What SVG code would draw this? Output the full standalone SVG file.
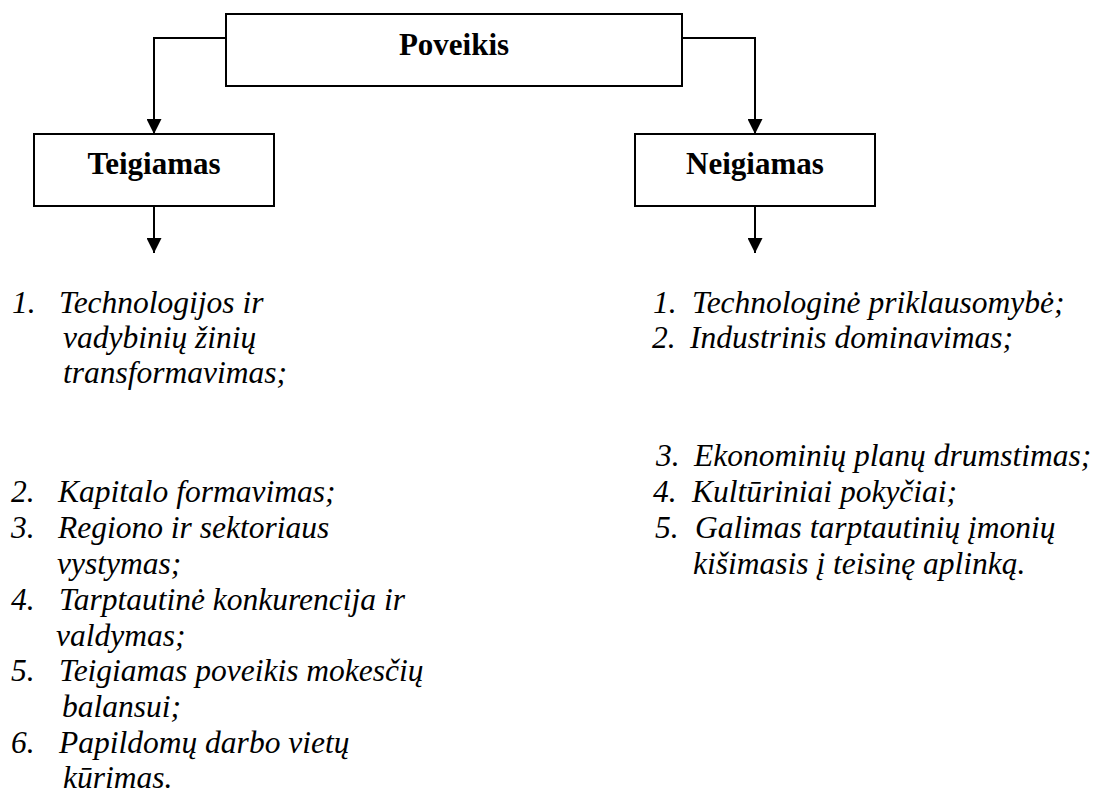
<svg xmlns="http://www.w3.org/2000/svg" width="1100" height="796" viewBox="0 0 1100 796">
<style>
.box{fill:#fff;stroke:#000;stroke-width:2}
.hdr{font-family:"Liberation Serif","Times New Roman",serif;font-weight:bold;font-size:31px;fill:#000;text-anchor:middle}
.li{font-family:"Liberation Serif","Times New Roman",serif;font-style:italic;font-size:31.5px;fill:#000}
.con{fill:none;stroke:#000;stroke-width:2}
</style>
<defs>
<marker id="arr" markerWidth="15" markerHeight="15" refX="15" refY="7.5" orient="auto" markerUnits="userSpaceOnUse">
<path d="M0,0 L15,7.5 L0,15 Z" fill="#000"/>
</marker>
</defs>
<rect width="1100" height="796" fill="#fff"/>
<g id="connectors">
<path class="con" d="M226,38 H154 V134" marker-end="url(#arr)"/>
<path class="con" d="M682,38 H755 V134" marker-end="url(#arr)"/>
<path class="con" d="M154,206 V253" marker-end="url(#arr)"/>
<path class="con" d="M755,206 V253" marker-end="url(#arr)"/>
</g>
<g id="poveikis">
<rect class="box" x="226" y="14" width="456" height="72"/>
<text class="hdr" x="454" y="55">Poveikis</text>
</g>
<g id="teigiamas">
<rect class="box" x="34" y="134" width="240" height="72"/>
<text class="hdr" x="154" y="174">Teigiamas</text>
</g>
<g id="neigiamas">
<rect class="box" x="635" y="134" width="240" height="72"/>
<text class="hdr" x="755" y="174">Neigiamas</text>
</g>
<g id="teigiamas-list" class="li">
<text x="12" y="313">1.</text><text x="59" y="313">Technologijos ir</text>
<text x="63" y="348">vadybinių žinių</text>
<text x="63" y="383">transformavimas;</text>
<text x="11" y="502">2.</text><text x="58" y="502">Kapitalo formavimas;</text>
<text x="11" y="538">3.</text><text x="58" y="538">Regiono ir sektoriaus</text>
<text x="57" y="574">vystymas;</text>
<text x="11" y="610">4.</text><text x="59" y="610">Tarptautinė konkurencija ir</text>
<text x="56" y="646">valdymas;</text>
<text x="11" y="681">5.</text><text x="59" y="681">Teigiamas poveikis mokesčių</text>
<text x="62" y="717">balansui;</text>
<text x="11" y="753">6.</text><text x="59" y="753">Papildomų darbo vietų</text>
<text x="63" y="788">kūrimas.</text>
</g>
<g id="neigiamas-list" class="li">
<text x="653" y="313">1.</text><text x="692" y="313">Technologinė priklausomybė;</text>
<text x="652" y="348">2.</text><text x="690" y="348">Industrinis dominavimas;</text>
<text x="656" y="466">3.</text><text x="694" y="466">Ekonominių planų drumstimas;</text>
<text x="653" y="502">4.</text><text x="692" y="502">Kultūriniai pokyčiai;</text>
<text x="655" y="538">5.</text><text x="695" y="538">Galimas tarptautinių įmonių</text>
<text x="693" y="574">kišimasis į teisinę aplinką.</text>
</g>
</svg>
